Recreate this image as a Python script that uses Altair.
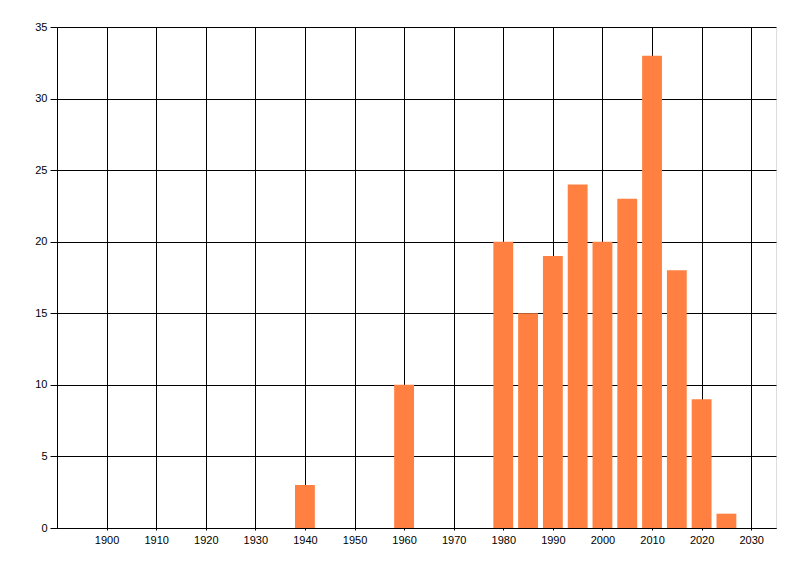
import altair as alt
import pandas as pd

years = [1940, 1960, 1980, 1985, 1990, 1995, 2000, 2005, 2010, 2015, 2020, 2025]
counts = [3, 10, 20, 15, 19, 24, 20, 23, 33, 18, 9, 1]
x_ticks = [1900, 1910, 1920, 1930, 1940, 1950, 1960, 1970, 1980, 1990, 2000, 2010, 2020, 2030]
y_ticks = [0, 5, 10, 15, 20, 25, 30, 35]
bar_half_width = 2

df = pd.DataFrame({"year": years, "count": counts})

chart = alt.Chart(df).mark_rect(color="#FF8040").transform_calculate(
    x0=f"datum.year - {bar_half_width}", x1=f"datum.year + {bar_half_width}"
).encode(
    x=alt.X("x0:Q", scale=alt.Scale(domain=[1890, 2035], nice=False, zero=False),
            axis=alt.Axis(values=x_ticks, title=None, format="d", grid=True,
                          gridColor="black", gridOpacity=1, gridWidth=1,
                          domainColor="black", domainWidth=1, tickColor="black",
                          tickSize=2, labelFontSize=11, labelFont="Liberation Sans",
                          labelColor="black", labelPadding=4)),
    x2="x1:Q",
    y=alt.Y("count:Q", scale=alt.Scale(domain=[0, 35], nice=False),
            axis=alt.Axis(values=y_ticks, title=None, grid=True,
                          gridColor="black", gridOpacity=1, gridWidth=1,
                          domainColor="black", domainWidth=1, tickColor="black",
                          tickSize=7, labelFontSize=11, labelFont="Liberation Sans",
                          labelColor="black", labelPadding=3)),
    y2=alt.datum(0),
).properties(
    width=719, height=501,
    autosize=alt.AutoSizeParams(type="none"),
    padding={"left": 49, "top": 19, "right": 16, "bottom": 40},
).configure_view(stroke=None).configure(background="white")

chart.save("out.html", embed_options={"renderer": "svg", "actions": False})
